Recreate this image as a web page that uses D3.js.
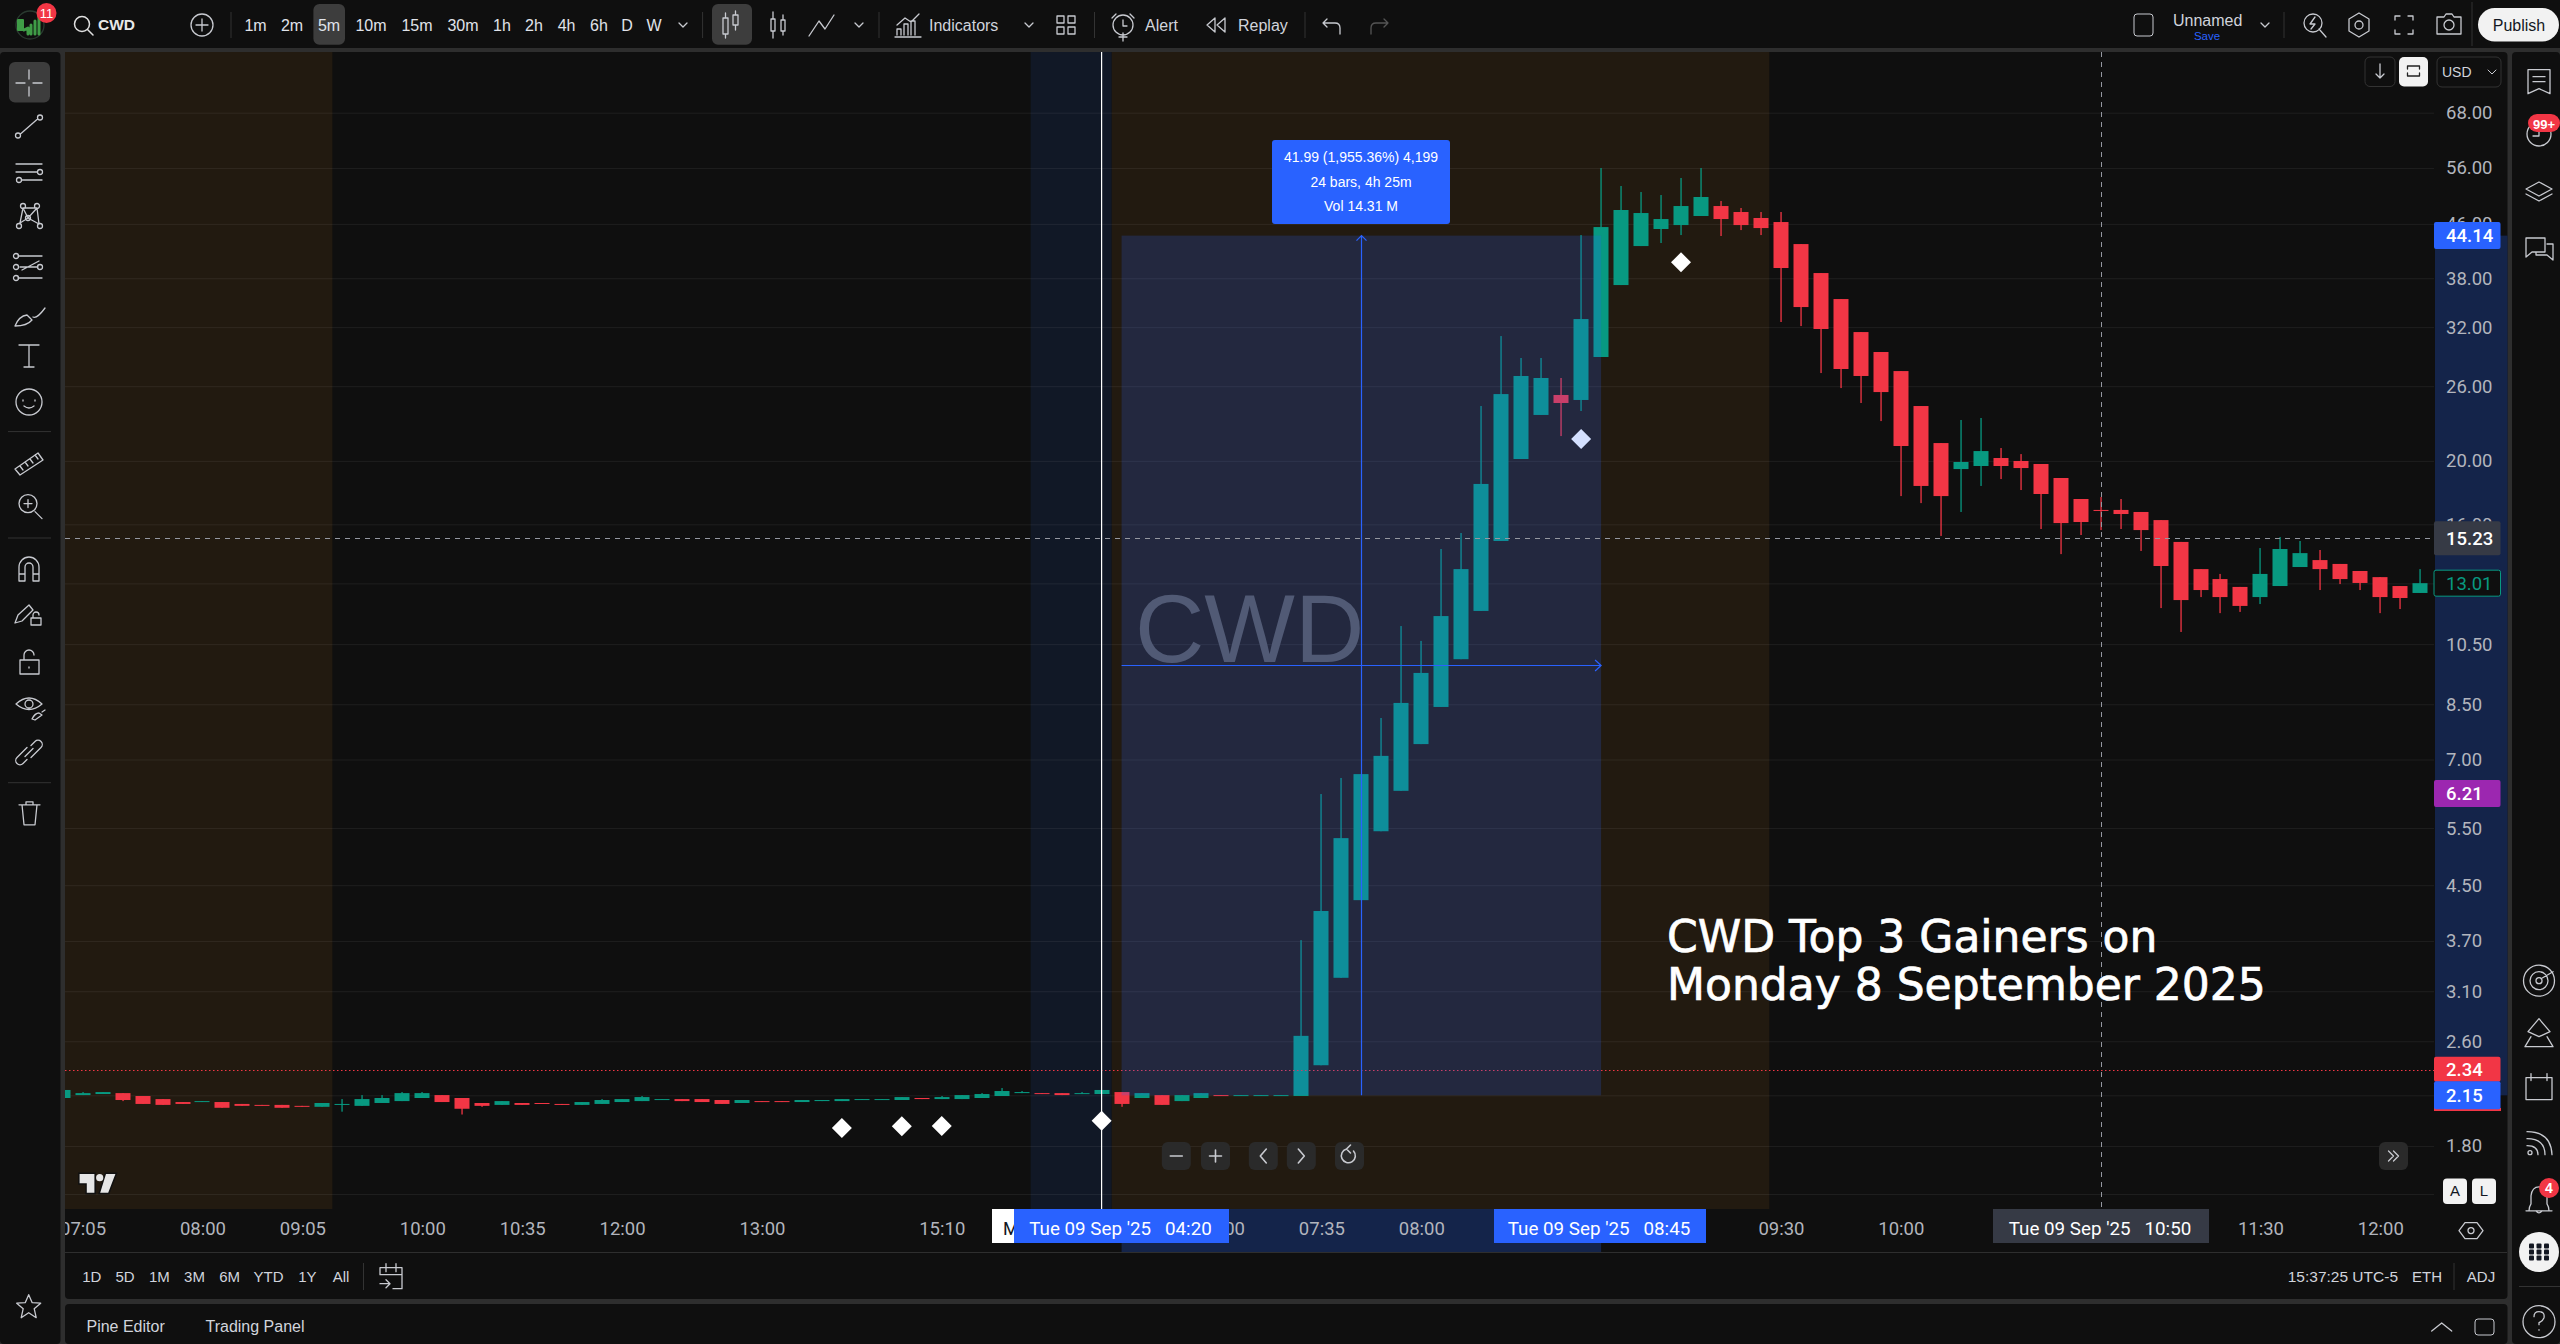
<!DOCTYPE html>
<html><head><meta charset="utf-8"><title>CWD</title>
<script src="https://cdn.jsdelivr.net/npm/d3@7"></script>
<style>
html,body{margin:0;padding:0;background:#2e2e2e;overflow:hidden}
svg{display:block;font-family:"Liberation Sans",Arial,sans-serif}
</style></head><body><svg id="c" width="2560" height="1344"></svg>
<script>
// ---------- data ----------
const opens=[2.130,2.152,2.160,2.167,2.145,2.122,2.100,2.100,2.100,2.086,2.079,2.079,2.072,2.065,2.079,2.072,2.093,2.107,2.130,2.152,2.130,2.093,2.079,2.093,2.093,2.086,2.079,2.086,2.100,2.107,2.115,2.122,2.122,2.115,2.093,2.107,2.107,2.100,2.107,2.107,2.115,2.115,2.115,2.130,2.122,2.122,2.130,2.145,2.167,2.167,2.167,2.160,2.160,2.175,2.130,2.152,2.107,2.130,2.152,2.145,2.145,2.145,2.145,2.39,3.25,4.27,5.44,6.27,7.39,8.42,9.96,11.80,15.09,20.13,23.50,25.21,24.77,28.81,37.10,42.55,45.18,45.81,47.29,48.98,47.96,46.96,46.30,42.85,38.70,35.32,31.45,29.32,27.42,24.25,21.29,19.43,19.64,20.20,19.99,19.78,18.83,17.49,16.83,16.83,16.71,16.24,15.04,13.67,13.20,12.84,12.39,12.88,13.77,14.11,13.92,13.58,13.29,12.88,12.57];
const closes=[2.191,2.167,2.175,2.115,2.086,2.079,2.086,2.107,2.058,2.072,2.075,2.058,2.065,2.093,2.086,2.122,2.130,2.167,2.167,2.100,2.051,2.072,2.107,2.079,2.086,2.079,2.100,2.115,2.122,2.137,2.122,2.107,2.100,2.086,2.115,2.100,2.100,2.115,2.115,2.122,2.122,2.122,2.137,2.122,2.137,2.152,2.160,2.183,2.175,2.160,2.152,2.167,2.191,2.086,2.167,2.079,2.152,2.167,2.145,2.152,2.152,2.152,2.65,4.11,5.31,6.65,7.09,8.54,9.49,11.59,13.67,18.44,25.29,26.95,26.76,24.51,32.92,45.49,48.30,47.79,46.79,48.98,50.56,46.79,45.81,45.33,39.39,34.34,31.79,27.62,26.95,25.47,21.07,18.31,17.67,19.92,20.70,19.64,19.50,17.80,16.07,16.13,16.77,16.59,15.68,13.82,12.26,12.70,12.39,12.01,13.44,14.67,14.46,13.67,13.20,13.02,12.39,12.35,13.01];
const highs=[2.191,2.175,2.175,2.167,2.145,2.122,2.100,2.107,2.100,2.086,2.079,2.079,2.072,2.093,2.122,2.152,2.152,2.175,2.175,2.152,2.130,2.093,2.107,2.093,2.093,2.086,2.100,2.122,2.122,2.145,2.122,2.122,2.122,2.115,2.115,2.107,2.107,2.115,2.115,2.122,2.122,2.122,2.137,2.130,2.145,2.152,2.167,2.206,2.183,2.167,2.167,2.175,2.191,2.175,2.167,2.152,2.152,2.167,2.152,2.152,2.152,2.152,3.71,6.20,6.56,6.65,8.10,11.19,10.62,14.67,15.52,24.25,31.01,28.71,28.71,26.76,44.23,55.98,52.55,51.45,50.91,54.05,55.98,49.85,48.64,47.96,47.96,42.85,38.70,35.32,31.45,29.32,27.42,24.25,21.29,23.09,23.25,20.92,20.48,19.78,18.83,17.49,17.61,17.49,16.71,16.24,15.04,13.67,13.44,12.84,14.72,15.30,15.09,14.62,13.92,13.58,13.29,12.88,13.67];
const lows=[2.130,2.152,2.160,2.107,2.086,2.079,2.086,2.100,2.058,2.072,2.075,2.058,2.065,2.065,2.030,2.072,2.093,2.107,2.130,2.100,2.010,2.065,2.079,2.079,2.086,2.079,2.079,2.086,2.100,2.107,2.115,2.107,2.100,2.086,2.093,2.100,2.100,2.100,2.107,2.107,2.115,2.115,2.115,2.122,2.122,2.122,2.130,2.145,2.167,2.160,2.152,2.160,2.160,2.065,2.130,2.079,2.107,2.130,2.145,2.145,2.145,2.145,2.145,2.39,3.25,4.27,5.44,6.27,7.39,8.42,9.96,11.80,15.09,20.13,23.50,21.82,23.83,28.81,37.10,42.55,43.01,44.23,47.29,44.08,45.01,44.23,32.58,32.12,27.23,25.83,24.51,23.00,17.67,17.24,15.36,16.71,18.31,18.76,18.05,15.74,14.41,15.41,15.68,15.74,14.57,11.92,10.96,12.39,11.71,11.76,12.09,12.88,13.77,12.70,12.97,12.70,11.71,11.88,12.57];
const priceTicks=[68,56,46,38,32,26,20,16,10.5,8.5,7,5.5,4.5,3.7,3.1,2.6,1.8];
const gridOnly=[13,2.15,1.52];
const timeIdx=[1,7,12,18,23,28,35,44,58,63,68,86,92,110,116];
const timeLabels=["07:05","08:00","09:05","10:00","10:35","12:00","13:00","15:10","07:00","07:35","08:00","09:30","10:00","11:30","12:00"];
const markerIdx=[39,42,44,52,76,81];
const markerPrice=[1.917,1.928,1.930,1.966,21.59,40.19];
const rangeLabels=["1D","5D","1M","3M","6M","YTD","1Y","All"];
const intervals=["1m","2m","5m","10m","15m","30m","1h","2h","4h","6h","D","W"];
const overlayBars=[53,77], overlayPrices=[44.14,2.15];
const sessions=[[0,13.5],[52.5,85.42]];
const highlightBars=[48.45,52.5];
const whiteBar=52, crossBar=102, crossPrice=15.23, redLine=2.34;
const statLines=["41.99 (1,955.36%) 4,199","24 bars, 4h 25m","Vol 14.31 M"];
const titleLines=["CWD Top 3 Gainers on","Monday 8 September 2025"];

// ---------- geometry ----------
const P={l:65,r:2434,t:52,b:1209};
const C={bg:"#0f0f0f",up:"#089981",dn:"#f23645",blue:"#2962ff",txt:"#d1d4dc",ax:"#b2b5bd"};
const svg=d3.select("#c");
const x=d3.scaleLinear().domain([0,118]).range([62.62,2420.3]);
const y=d3.scaleLog().domain([1.447,84.76]).range([1208,50]);
const defs=svg.append("defs");
defs.append("clipPath").attr("id","pane").append("rect").attr("x",P.l).attr("y",P.t).attr("width",P.r-P.l).attr("height",P.b-P.t);
defs.append("clipPath").attr("id","taxis").append("rect").attr("x",P.l).attr("y",P.b).attr("width",P.r-P.l).attr("height",43);

// panels
const panel=(X,Y,W,H,r=4)=>svg.append("rect").attr("x",X).attr("y",Y).attr("width",W).attr("height",H).attr("rx",r).attr("fill",C.bg);
panel(0,0,2560,48,0);panel(0,52,60.5,1292);panel(65,52,2442.5,1247);panel(65,1304,2442.5,40);panel(2512,52,48,1292);

// pane
const pane=svg.append("g").attr("clip-path","url(#pane)");
pane.selectAll(".sess").data(sessions).join("rect").attr("x",d=>Math.max(P.l,x(d[0]))).attr("y",P.t)
  .attr("width",d=>x(d[1])-Math.max(P.l,x(d[0]))).attr("height",P.b-P.t).attr("fill","#221a10");
pane.append("rect").attr("x",x(highlightBars[0])).attr("y",P.t).attr("width",x(highlightBars[1])-x(highlightBars[0])).attr("height",P.b-P.t).attr("fill","#111826");
// grid
const gridAxis=d3.axisLeft(y).tickValues(priceTicks.concat(gridOnly)).tickFormat("").tickSize(P.l-P.r);
const gg=pane.append("g").attr("transform",`translate(${P.l},0)`).call(gridAxis);
gg.select(".domain").remove();
gg.selectAll("line").attr("stroke","#fff").attr("stroke-opacity",.065);
// watermark
pane.append("text").attr("x",1135).attr("y",662).attr("font-size",96).attr("fill","#5c5853").text("CWD");
// markers below the overlay
const sq=d3.symbol(d3.symbolSquare).size(200);
pane.selectAll(".mk").data(markerIdx).join("path").attr("d",sq).attr("fill","#fff")
  .attr("transform",(d,i)=>`translate(${x(d)},${y(markerPrice[i])}) rotate(45)`);
// candles
const idx=d3.range(opens.length);
const col=i=>closes[i]>=opens[i]?C.up:C.dn;
pane.selectAll(".w").data(idx).join("rect").attr("x",i=>Math.round(x(i))-.6).attr("width",1.3)
  .attr("y",i=>y(highs[i])).attr("height",i=>Math.max(0,y(lows[i])-y(highs[i]))).attr("fill",col);
pane.selectAll(".b").data(idx).join("rect").attr("x",i=>Math.round(x(i))-7.5).attr("width",15)
  .attr("y",i=>y(Math.max(opens[i],closes[i]))).attr("height",i=>Math.max(1,Math.abs(y(opens[i])-y(closes[i])))).attr("fill",col);
// dotted price line
pane.append("line").attr("x1",P.l).attr("x2",P.r).attr("y1",Math.round(y(redLine))-.5).attr("y2",Math.round(y(redLine))-.5)
  .attr("stroke",C.dn).attr("stroke-width",1).attr("stroke-dasharray","1.5 2.5");
// measure overlay
const ox0=x(overlayBars[0]),ox1=x(overlayBars[1]),oy0=y(overlayPrices[0]),oy1=y(overlayPrices[1]);
pane.append("rect").attr("x",ox0).attr("y",oy0).attr("width",ox1-ox0).attr("height",oy1-oy0).attr("fill",C.blue).attr("fill-opacity",.2);
const mx=Math.round((ox0+ox1)/2)+.5;
const ml=pane.append("g").attr("fill","none").attr("stroke",C.blue).attr("stroke-width",1.2);
ml.append("path").attr("d",`M${mx},${oy1}V${oy0}M${mx-5},${oy0+5}L${mx},${oy0}L${mx+5},${oy0+5}`);
ml.append("path").attr("d",`M${ox0},665.5H${ox1}M${ox1-6},660L${ox1},665.5L${ox1-6},671`);
// crosshairs
pane.append("line").attr("x1",x(whiteBar)).attr("x2",x(whiteBar)).attr("y1",P.t).attr("y2",P.b).attr("stroke","#fff").attr("stroke-width",1.2);
const cr=pane.append("g").attr("stroke","#9598a1").attr("stroke-width",1).attr("stroke-dasharray","5 5");
cr.append("line").attr("x1",P.l).attr("x2",P.r).attr("y1",Math.round(y(crossPrice))+.5).attr("y2",Math.round(y(crossPrice))+.5);
cr.append("line").attr("x1",Math.round(x(crossBar))+.5).attr("x2",Math.round(x(crossBar))+.5).attr("y1",P.t).attr("y2",P.b);
// title
titleLines.forEach((t,i)=>svg.append("text").attr("x",1667).attr("y",952+i*48).attr("font-family","'DejaVu Sans'").attr("font-size",44).attr("fill","#fff").attr("stroke","#fff").attr("stroke-width",.7).text(t));
// stat box
svg.append("rect").attr("x",1272).attr("y",140).attr("width",178).attr("height",84).attr("rx",3).attr("fill",C.blue);
statLines.forEach((t,i)=>svg.append("text").attr("x",1361).attr("y",162+i*24.5).attr("text-anchor","middle").attr("font-size",14).attr("fill","#fff").text(t));
// TV logo
svg.append("path").attr("d","M79.6,1174H94.4V1192.7H86.8V1183.3H79.6ZM106,1174H115.4L108.2,1192.7H100.2Z").attr("fill","#e6e6e6").attr("stroke","#111").attr("stroke-width",3).attr("paint-order","stroke");
svg.append("circle").attr("cx",99.7).attr("cy",1177.7).attr("r",3.6).attr("fill","#e6e6e6");

// axes
svg.append("rect").attr("x",P.r).attr("y",oy0).attr("width",73.5).attr("height",oy1-oy0).attr("fill","#14244a");
svg.append("rect").attr("x",ox0).attr("y",P.b).attr("width",ox1-ox0).attr("height",43).attr("fill","#14244a");
const py=svg.append("g").attr("transform",`translate(${P.r},0)`).call(d3.axisRight(y).tickValues(priceTicks).tickFormat(d3.format(".2f")).tickSize(0).tickPadding(12));
py.select(".domain").remove();py.selectAll("text").attr("font-size",18.5).attr("fill",C.ax).attr("font-family","Roboto");
const tg=svg.append("g").attr("clip-path","url(#taxis)");
const tx=tg.append("g").attr("transform",`translate(0,${P.b})`).call(d3.axisBottom(x).tickValues(timeIdx).tickFormat((d,i)=>timeLabels[i]).tickSize(0).tickPadding(13));
tx.select(".domain").remove();tx.selectAll("text").attr("font-size",18.5).attr("fill",C.ax).attr("font-family","Roboto");
svg.append("line").attr("x1",65).attr("x2",2507).attr("y1",1252.5).attr("y2",1252.5).attr("stroke","#2e2e2e");
svg.append("line").attr("x1",2434.5).attr("x2",2434.5).attr("y1",52).attr("y2",1209).attr("stroke","#0f0f0f");

// price tags
const tags=[[44.14,C.blue,"#fff"],[6.21,"#9c27b0","#fff"],[2.34,C.dn,"#fff"],[2.15,C.blue,"#fff"],[15.23,"#363a45","#fff"],[13.01,"#0f0f0f",C.up]];
const th={44.14:27,6.21:27,2.34:25,2.15:28,15.23:34,13.01:26}, dyT={2.34:-2};
svg.append("rect").attr("x",P.r).attr("y",1108).attr("width",67).attr("height",3).attr("fill",C.dn);
tags.forEach(([v,f,tc])=>{const h=th[v],cy=y(v)+(dyT[v]||0);
  svg.append("rect").attr("x",P.r).attr("y",cy-h/2).attr("width",66.5).attr("height",h).attr("rx",2).attr("fill",f).attr("stroke",v===13.01?C.up:"none");
  svg.append("text").attr("x",2446).attr("y",cy+6.6).attr("font-size",18.5).attr("font-family","Roboto").attr("font-weight",v===13.01?400:500).attr("fill",tc).text(d3.format(".2f")(v));
});
// time tags
const lbl=(X0,X1,f,t,tc="#fff")=>{svg.append("rect").attr("x",X0).attr("y",P.b).attr("width",X1-X0).attr("height",34).attr("fill",f);
  svg.append("text").attr("x",(X0+X1)/2-1).attr("y",1235).attr("text-anchor","middle").attr("font-size",18.8).attr("font-family","Roboto").attr("fill",tc).attr("xml:space","preserve").text(t);};
svg.append("rect").attr("x",992).attr("y",P.b).attr("width",24).attr("height",34).attr("fill","#fff");
svg.append("text").attr("x",1003).attr("y",1235).attr("font-size",18).attr("font-family","Roboto").attr("fill","#131722").text("M");
lbl(1014,1229,C.blue,"Tue 09 Sep '25   04:20");
lbl(1494,1706,C.blue,"Tue 09 Sep '25   08:45");
lbl(1993,2209,"#363a45","Tue 09 Sep '25   10:50");

// ---------- chrome ----------
const T=(t,X,Y,o={})=>svg.append("text").attr("x",X).attr("y",Y).attr("text-anchor",o.a||"middle").attr("font-size",o.s||16).attr("font-weight",o.w||400).attr("fill",o.f||C.txt).attr("dy",".35em").text(t);
const I=(X,Y,d,o={})=>svg.append("path").attr("transform",`translate(${X},${Y})`).attr("d",d).attr("fill",o.f||"none").attr("stroke",o.s||"#c8cad0").attr("stroke-width",o.w||1.3).attr("stroke-linecap","round").attr("stroke-linejoin","round");
const R=(X,Y,W,H,f,r=5,s)=>svg.append("rect").attr("x",X).attr("y",Y).attr("width",W).attr("height",H).attr("rx",r).attr("fill",f).attr("stroke",s||"none");
const circ=r=>`M${-r},0a${r},${r} 0 1,0 ${2*r},0a${r},${r} 0 1,0 ${-2*r},0`;
const dot=(X,Y,r=2.5)=>`M${X-r},${Y}a${r},${r} 0 1,0 ${2*r},0a${r},${r} 0 1,0 ${-2*r},0`;
const vsep=(X,Y0,Y1)=>svg.append("line").attr("x1",X).attr("x2",X).attr("y1",Y0).attr("y2",Y1).attr("stroke","#333");
const hsep=(X0,X1,Y)=>svg.append("line").attr("x1",X0).attr("x2",X1).attr("y1",Y).attr("y2",Y).attr("stroke","#333");
const chev="M-4,-2L0,2L4,-2";
// logo
I(30,25,circ(14),{s:"#2a3a30"});
I(32,25,"M-8,5L-4,3V9M-1,0V9M3,-4V9M7,-8V9",{s:"#3f9d47",w:3});
R(17,19,7,12,"#3f9d47",1);
svg.append("circle").attr("cx",46.5).attr("cy",13).attr("r",10).attr("fill",C.dn);
T("11",46.5,13,{s:13,f:"#fff"});
I(82,24,circ(7.5)+"M5.5,5.5L11,11",{s:"#e0e0e0",w:1.5});
T("CWD",98,25,{a:"start",w:700,s:15.5,f:"#e8e8e8"});
I(202,25,circ(11)+"M-6,0H6M0,-6V6");
vsep(231,12,38);
const ivX=[255.5,292,329,371,417,463,502,534,566.6,599,627,654];
R(313.4,4,31.6,40.7,"#3d3d3d",6);
intervals.forEach((t,i)=>T(t,ivX[i],25,{s:16,f:"#e0e3ea"}));
I(683,25,chev);vsep(702.6,12,38);
R(712,4,40,40.7,"#3d3d3d",6);
I(731,25,"M-8,-7h5v16h-5zM2,-10h5v10h-5zM-5.5,-7V-12M-5.5,9V13M4.5,-10V-14M4.5,0V5");
I(778,25,"M-7,-6h4v12h-4zM3,-5h4v11h-4zM-5,-6V-13M-5,6V13M5,-5V-10M5,6V10");
I(822,25,"M-13,11L-3,-4L3,4L12,-10");
I(859,25,chev);vsep(879,12,38);
I(908,25,"M-13,12H13M-11,10V4h4v6M-4,10V-1h4v11M3,10V-4h4v14M-11,0L-3,-7L3,-3L11,-11");
T("Indicators",929,25,{a:"start"});I(1029,25,chev);
I(1066,25,"M-9,-9h7v7h-7zM2,-9h7v7h-7zM-9,2h7v7h-7zM2,2h7v7h-7z");
vsep(1094.5,12,38);
I(1123,25,circ(10)+"M0,-5V1H4M-11,-7L-7,-11M11,-7L7,-11M0,8V16M-4,12H4");
T("Alert",1145,25,{a:"start"});
I(1217,25,"M-2,-7L-10,0L-2,7ZM8,-7L0,0L8,7Z");
T("Replay",1238,25,{a:"start"});
vsep(1305,12,38);
I(1333,25,"M-6,-6L-10,-2L-6,2M-10,-2H2Q7,-2 7,3V9");
I(1378,25,"M6,-6L10,-2L6,2M10,-2H-2Q-7,-2 -7,3V9",{s:"#555"});
R(2134,14,19,22,"none",3,"#c8cad0");
T("Unnamed",2173,20,{a:"start",s:16});T("Save",2207,35.5,{s:11.5,f:C.blue});
I(2265,25,chev);vsep(2284,12,38);
I(2313,23,circ(9)+"M6,6L13,14M2,-6L-3,1H2L-2,6",{});
I(2359,25,"M0,-12L10,-6V6L0,12L-10,6V-6Z"+"M-4,0a4,4 0 1,0 8,0a4,4 0 1,0 -8,0");
I(2404,25,"M-9,-5V-9H-4M4,-9H9V-5M9,5V9H4M-4,9H-9V5");
I(2449,25,"M-12,-8H-5L-3,-11H3L5,-8H12V9H-12Z"+"M-5,0a5,5 0 1,0 10,0a5,5 0 1,0 -10,0");
vsep(2472,2,46);
R(2478,8,81,33.5,"#f2f2f2",16.7);
T("Publish",2519,25,{f:"#131722",s:16});
// left toolbar
R(9,62,41,40.5,"#3d3d3d",6);
const lt=[[83,"M-13,0H-4M4,0H13M0,-13V-4M0,4V13"],
[126.5,"M-8,7L8,-7"+dot(-11,9)+dot(11,-9)],
[172,"M-13,-8H13M-13,0H8M-7,8H13"+dot(11,0)+dot(-10,8)],
[216,"M-9,7L-6,-8L8,-8L10,8L-1,2ZM-6,-8L-1,2L8,-8"+dot(-10,10)+dot(-6,-10)+dot(8,-10)+dot(11,10)+dot(-1,2)],
[267,"M-11,-11H13M-9,0H9M-11,11H13M-7,3L10,-6"+dot(-13,-11)+dot(-13,0)+dot(-13,11)+dot(11,0)],
[313,"M-14,13Q-10,3 -2,2L3,7Q-2,13 -14,13ZM4,4Q8,6 16,-5"],
[356,"M-10,-11H10M0,-11V11M-5,11H5"],
[402,"M-13,0a13,13 0 1,0 26,0a13,13 0 1,0 -26,0M-6,-2v1M6,-2v1M-5,4Q0,8 5,4"],
[462,"M-14,7L9,-9L14,-2L-9,13ZM-9,4L-6,8M-4,0L-1,4M1,-3L4,1M6,-7L9,-3"],
[506.6,"M-10,-3a9,9 0 1,0 18,0a9,9 0 1,0 -18,0M6,5L13,12M-5,-3H3M-1,-7V1"],
[569,"M-10,12V-2a10,10 0 0,1 20,0V12H4V-2a4,4 0 0,0 -8,0V12ZM-10,5H-4M4,5H10"],
[612,"M-14,11L-11,3L0,-7L4,-2L-7,9ZM2,6h10v7h-10zM4,6V3a3,3 0 0,1 6,0"],
[662,"M-9,-2H10V12H-9ZM-5,-2V-7a5,5 0 0,1 10,0M0,5v1"],
[708,"M-13,-4Q0,-16 13,-4Q0,7 -13,-4ZM-4,-4a4,4 0 1,0 8,0a4,4 0 1,0 -8,0M3,11Q6,5 10,5L13,7L6,12ZM13,4L16,2"],
[752.5,"M-2,7L-6,11a4,4 0 0,1 -6,-6L-2,-5M2,-7L6,-11a4,4 0 0,1 6,6L2,5M-4,4L4,-4"],
[812.8,"M-10,-8H11M-7,-8L-5,12H6L8,-8M-3,-8V-11H4V-8"]];
lt.forEach(d=>I(29,d[0],d[1]));
[431.6,538,782.7].forEach(Y=>hsep(8,51,Y));
I(28.7,1306.7,"M0,-12L3.5,-4L12,-3.5L5.5,2L7.5,11L0,6L-7.5,11L-5.5,2L-12,-3.5L-3.5,-4Z");
// chart buttons
R(2365,57,30,29.5,"none",5,"#333");I(2380,71,"M0,-7V7M-4,3L0,7L4,3");
R(2399,57,29,29.5,"#f2f2f2",5);I(2413.5,71,"M-6,-2V-5H6V-2M-6,2V5H6V2",{s:"#222"});
R(2437,57,64,30,"none",5,"#333");T("USD",2442,72,{a:"start",s:14});I(2492,72,chev,{w:1});
// nav buttons
const nav=[[1161.8,"M-6,0H6"],[1201,"M-6,0H6M0,-6V6"],[1248.8,"M3,-7L-3,0L3,7"],[1286.8,"M-3,-7L3,0L-3,7"],[1335,"M-3,-7A7,7 0 1,0 4,-5M-3,-7L1,-11M-3,-7L1,-3"]];
nav.forEach(d=>{R(d[0],1142,29,28,"#2a2a2a",6);I(d[0]+14.5,1156,d[1],{w:1.6});});
R(2379,1142,29,28,"#2a2a2a",6);I(2393.5,1156,"M-5,-5L0,0L-5,5M0,-5L5,0L0,5");
R(2443,1178.5,24,25.5,"#f2f2f2",4);T("A",2455,1191,{f:"#131722",s:15});
R(2472,1178.5,24,25.5,"#f2f2f2",4);T("L",2484,1191,{f:"#131722",s:15});
I(2471,1230.6,"M-12,0L-6,-8H6L12,0L6,8H-6ZM-3,0a3,3 0 1,0 6,0a3,3 0 1,0 -6,0");
// range bar
const rgX=[91.8,125,159.4,194.5,229.6,268.5,307.4,341];
rangeLabels.forEach((t,i)=>T(t,rgX[i],1276.7,{s:15}));
vsep(363.5,1263,1290);
I(391,1276.7,"M-11,-9H11M-11,-9V-2M11,-9V12H2M-11,-2H11M-5,-13V-5M5,-13V-5M-11,7H-2M-5,3L-1,7L-5,11");
T("15:37:25 UTC-5",2398,1276.7,{a:"end",s:15.5});
T("ETH",2427,1276.7,{s:15});vsep(2454,1263,1290);T("ADJ",2481,1276.7,{s:15});
T("Pine Editor",125.6,1326.7,{s:16});T("Trading Panel",255,1326.7,{s:16});
I(2441.7,1327,"M-10,4L0,-4L10,4");
R(2475,1319,19,16,"none",3,"#c8cad0");
// right toolbar
I(2539,81.7,"M-11,-12H11V12L0,7L-11,12ZM-6,-5H6M-6,0H6");
I(2539,134,circ(12)+"M0,-6V2H-6");
svg.append("rect").attr("x",2528).attr("y",114).attr("width",32).attr("height",18).attr("rx",9).attr("fill",C.dn);
T("99+",2544,124,{s:13,f:"#fff",w:700});
I(2539,191,"M0,-9L13,-2L0,5L-13,-2ZM-13,3L0,10L13,3");
I(2539,248,"M-13,-10H6V4H-7L-13,9ZM8,-4H14V12L8,7H-3V4");
I(2539,980.7,circ(15.5)+"M-9,0a9,9 0 1,0 18,0a9,9 0 1,0 -18,0M-3,0a3,3 0 1,0 6,0a3,3 0 1,0 -6,0M2,-2L14,-9");
I(2539,1033.7,"M0,-15L11,-2L0,3L-11,-2ZM-14,13H14L8,3M-14,13L-8,3");
I(2539,1086.6,"M-13,-9H13V13H-13ZM-8,-13V-6M8,-13V-6");
I(2539,1141.7,"M-12,-10Q12,-10 13,13M-12,-3Q6,-3 6,13M-12,4Q-1,4 -1,13M-11,11a2,2 0 1,0 4,0a2,2 0 1,0 -4,0");
I(2539,1198.8,"M-13,12H13M-10,12Q-10,8 -8,5V-3Q-7,-12 0,-12Q7,-12 8,-3V5Q10,8 10,12M-3,12Q0,16 3,12");
svg.append("circle").attr("cx",2549).attr("cy",1188).attr("r",10).attr("fill",C.dn);
T("4",2549,1188,{s:14,f:"#fff",w:700});
svg.append("ellipse").attr("cx",2539).attr("cy",1252).attr("rx",20).attr("ry",20).attr("fill","#f2f2f2");
const dots=d3.cross([-7.5,0,7.5],[-6,0,6]);
svg.selectAll(".dt").data(dots).join("rect").attr("x",d=>2539+d[0]-2.5).attr("y",d=>1252+d[1]-2.5).attr("width",5).attr("height",5).attr("rx",1).attr("fill","#131722");
hsep(2519,2560,1286.5);
I(2539,1321.7,circ(16)+"M-5,-5Q-5,-10 0,-10Q6,-10 5,-4Q4,-1 0,1V3M0,8v.5");
</script></body></html>
